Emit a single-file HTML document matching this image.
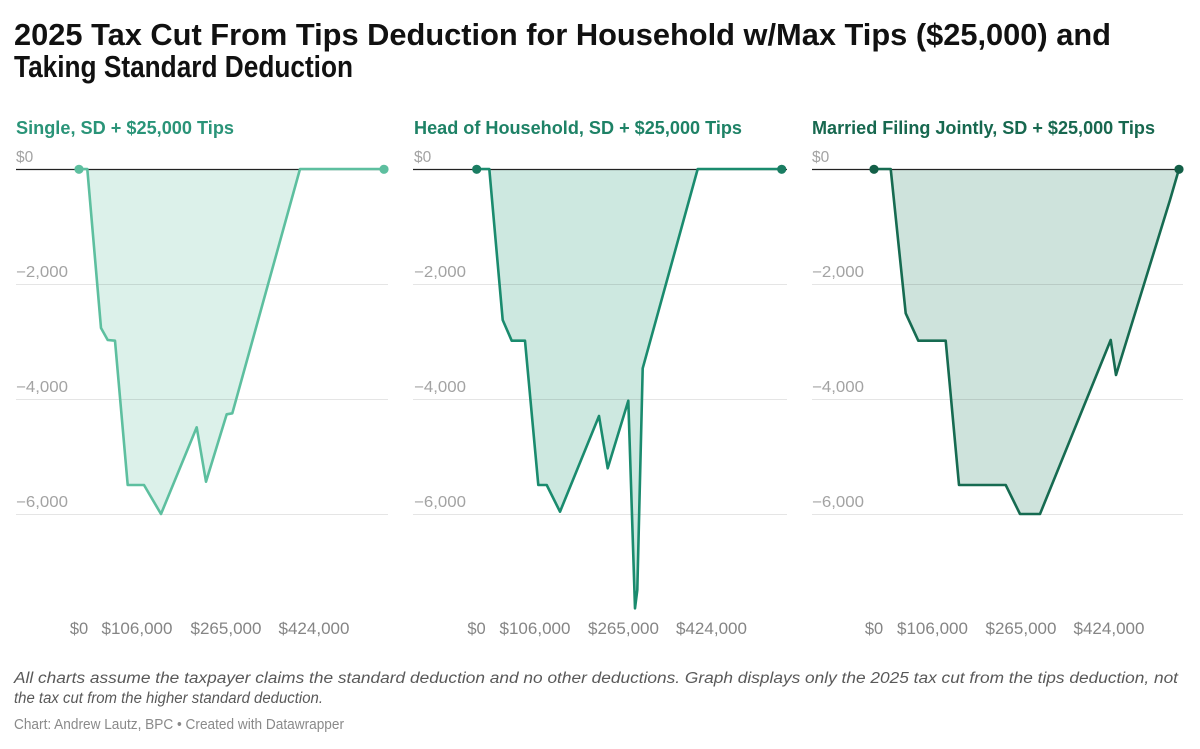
<!DOCTYPE html>
<html>
<head>
<meta charset="utf-8">
<style>
html,body{margin:0;padding:0;background:#fff;}
svg{display:block;}
text{font-family:"Liberation Sans",sans-serif;}
</style>
</head>
<body>
<svg width="1200" height="749" viewBox="0 0 1200 749" xmlns="http://www.w3.org/2000/svg">
<rect width="1200" height="749" fill="#fff"/>

<!-- Title -->
<text x="14" y="45" font-size="31" font-weight="bold" fill="#111" textLength="1097" lengthAdjust="spacingAndGlyphs">2025 Tax Cut From Tips Deduction for Household w/Max Tips ($25,000) and</text>
<text x="14" y="77" font-size="31" font-weight="bold" fill="#111" textLength="339" lengthAdjust="spacingAndGlyphs">Taking Standard Deduction</text>

<!-- Panel titles -->
<text x="16" y="134" font-size="18.5" font-weight="bold" fill="#2a9478" textLength="218" lengthAdjust="spacingAndGlyphs">Single, SD + $25,000 Tips</text>
<text x="414" y="134" font-size="18.5" font-weight="bold" fill="#1e8266" textLength="328" lengthAdjust="spacingAndGlyphs">Head of Household, SD + $25,000 Tips</text>
<text x="812" y="134" font-size="18.5" font-weight="bold" fill="#17684f" textLength="343" lengthAdjust="spacingAndGlyphs">Married Filing Jointly, SD + $25,000 Tips</text>

<!-- Panel 1 -->
<g>
  <polygon points="79,169 87.3,169 101,328 107.7,340 115,340.7 127.7,485 144,485 161,514 196.7,427.3 206,481.7 226.7,414.3 232.3,413.3 300,169 384,169" fill="#dcf1ea"/>
  <g stroke="#000" stroke-opacity="0.1" stroke-width="1">
    <line x1="16" y1="284.5" x2="388" y2="284.5"/>
    <line x1="16" y1="399.5" x2="388" y2="399.5"/>
    <line x1="16" y1="514.5" x2="388" y2="514.5"/>
  </g>
  <line x1="16" y1="169.5" x2="388" y2="169.5" stroke="#222" stroke-width="1.2"/>
  <polyline points="79,169 87.3,169 101,328 107.7,340 115,340.7 127.7,485 144,485 161,514 196.7,427.3 206,481.7 226.7,414.3 232.3,413.3 300,169 384,169" fill="none" stroke="#5dbf9f" stroke-width="2.6" stroke-linejoin="round"/>
  <circle cx="79" cy="169.3" r="4.6" fill="#5dbf9f"/>
  <circle cx="384" cy="169.3" r="4.6" fill="#5dbf9f"/>
  <g font-size="15.5" fill="#a3a3a3">
    <text x="16" y="162">$0</text>
    <text x="16" y="277" textLength="52" lengthAdjust="spacingAndGlyphs">−2,000</text>
    <text x="16" y="392" textLength="52" lengthAdjust="spacingAndGlyphs">−4,000</text>
    <text x="16" y="507" textLength="52" lengthAdjust="spacingAndGlyphs">−6,000</text>
  </g>
  <g font-size="16.5" fill="#858585" text-anchor="middle">
    <text x="79" y="634">$0</text>
    <text x="137" y="634" textLength="71" lengthAdjust="spacingAndGlyphs">$106,000</text>
    <text x="226" y="634" textLength="71" lengthAdjust="spacingAndGlyphs">$265,000</text>
    <text x="314" y="634" textLength="71" lengthAdjust="spacingAndGlyphs">$424,000</text>
  </g>
</g>

<!-- Panel 2 -->
<g>
  <polygon points="476.7,169 489.3,169 502.7,320 511.7,340.7 525,340.7 538.3,485 546.7,485 560,511.7 599,416 607.7,468.3 628.3,400.7 635,608.3 637.3,590 642.7,368.3 697.7,169 781.7,169" fill="#cde8e0"/>
  <g stroke="#000" stroke-opacity="0.1" stroke-width="1">
    <line x1="413" y1="284.5" x2="787" y2="284.5"/>
    <line x1="413" y1="399.5" x2="787" y2="399.5"/>
    <line x1="413" y1="514.5" x2="787" y2="514.5"/>
  </g>
  <line x1="413" y1="169.5" x2="787" y2="169.5" stroke="#222" stroke-width="1.2"/>
  <polyline points="476.7,169 489.3,169 502.7,320 511.7,340.7 525,340.7 538.3,485 546.7,485 560,511.7 599,416 607.7,468.3 628.3,400.7 635,608.3 637.3,590 642.7,368.3 697.7,169 781.7,169" fill="none" stroke="#1a8b6e" stroke-width="2.6" stroke-linejoin="round"/>
  <circle cx="476.7" cy="169.3" r="4.6" fill="#1a7d62"/>
  <circle cx="781.7" cy="169.3" r="4.6" fill="#1a7d62"/>
  <g font-size="15.5" fill="#a3a3a3">
    <text x="414" y="162">$0</text>
    <text x="414" y="277" textLength="52" lengthAdjust="spacingAndGlyphs">−2,000</text>
    <text x="414" y="392" textLength="52" lengthAdjust="spacingAndGlyphs">−4,000</text>
    <text x="414" y="507" textLength="52" lengthAdjust="spacingAndGlyphs">−6,000</text>
  </g>
  <g font-size="16.5" fill="#858585" text-anchor="middle">
    <text x="476.5" y="634">$0</text>
    <text x="535" y="634" textLength="71" lengthAdjust="spacingAndGlyphs">$106,000</text>
    <text x="623.5" y="634" textLength="71" lengthAdjust="spacingAndGlyphs">$265,000</text>
    <text x="711.5" y="634" textLength="71" lengthAdjust="spacingAndGlyphs">$424,000</text>
  </g>
</g>

<!-- Panel 3 -->
<g>
  <polygon points="874,169 890.7,169 905.7,313.3 918.3,340.7 945.7,340.7 959,485 1005.7,485 1020,514 1040,514 1110.7,340 1116,375 1170,200 1179,169" fill="#cee3dc"/>
  <g stroke="#000" stroke-opacity="0.1" stroke-width="1">
    <line x1="812" y1="284.5" x2="1183" y2="284.5"/>
    <line x1="812" y1="399.5" x2="1183" y2="399.5"/>
    <line x1="812" y1="514.5" x2="1183" y2="514.5"/>
  </g>
  <line x1="812" y1="169.5" x2="1183" y2="169.5" stroke="#222" stroke-width="1.2"/>
  <polyline points="874,169 890.7,169 905.7,313.3 918.3,340.7 945.7,340.7 959,485 1005.7,485 1020,514 1040,514 1110.7,340 1116,375 1170,200 1179,169" fill="none" stroke="#166b51" stroke-width="2.6" stroke-linejoin="round"/>
  <circle cx="874" cy="169.3" r="4.6" fill="#135f47"/>
  <circle cx="1179" cy="169.3" r="4.6" fill="#135f47"/>
  <g font-size="15.5" fill="#a3a3a3">
    <text x="812" y="162">$0</text>
    <text x="812" y="277" textLength="52" lengthAdjust="spacingAndGlyphs">−2,000</text>
    <text x="812" y="392" textLength="52" lengthAdjust="spacingAndGlyphs">−4,000</text>
    <text x="812" y="507" textLength="52" lengthAdjust="spacingAndGlyphs">−6,000</text>
  </g>
  <g font-size="16.5" fill="#858585" text-anchor="middle">
    <text x="874" y="634">$0</text>
    <text x="932.5" y="634" textLength="71" lengthAdjust="spacingAndGlyphs">$106,000</text>
    <text x="1021" y="634" textLength="71" lengthAdjust="spacingAndGlyphs">$265,000</text>
    <text x="1109" y="634" textLength="71" lengthAdjust="spacingAndGlyphs">$424,000</text>
  </g>
</g>

<!-- Footer -->
<text x="14" y="683" font-size="15.5" font-style="italic" fill="#595959" textLength="1164" lengthAdjust="spacingAndGlyphs">All charts assume the taxpayer claims the standard deduction and no other deductions. Graph displays only the 2025 tax cut from the tips deduction, not</text>
<text x="14" y="703" font-size="15.5" font-style="italic" fill="#595959" textLength="309" lengthAdjust="spacingAndGlyphs">the tax cut from the higher standard deduction.</text>
<text x="14" y="729" font-size="14.5" fill="#8a8a8a" textLength="330" lengthAdjust="spacingAndGlyphs">Chart: Andrew Lautz, BPC • Created with Datawrapper</text>
</svg>
</body>
</html>
